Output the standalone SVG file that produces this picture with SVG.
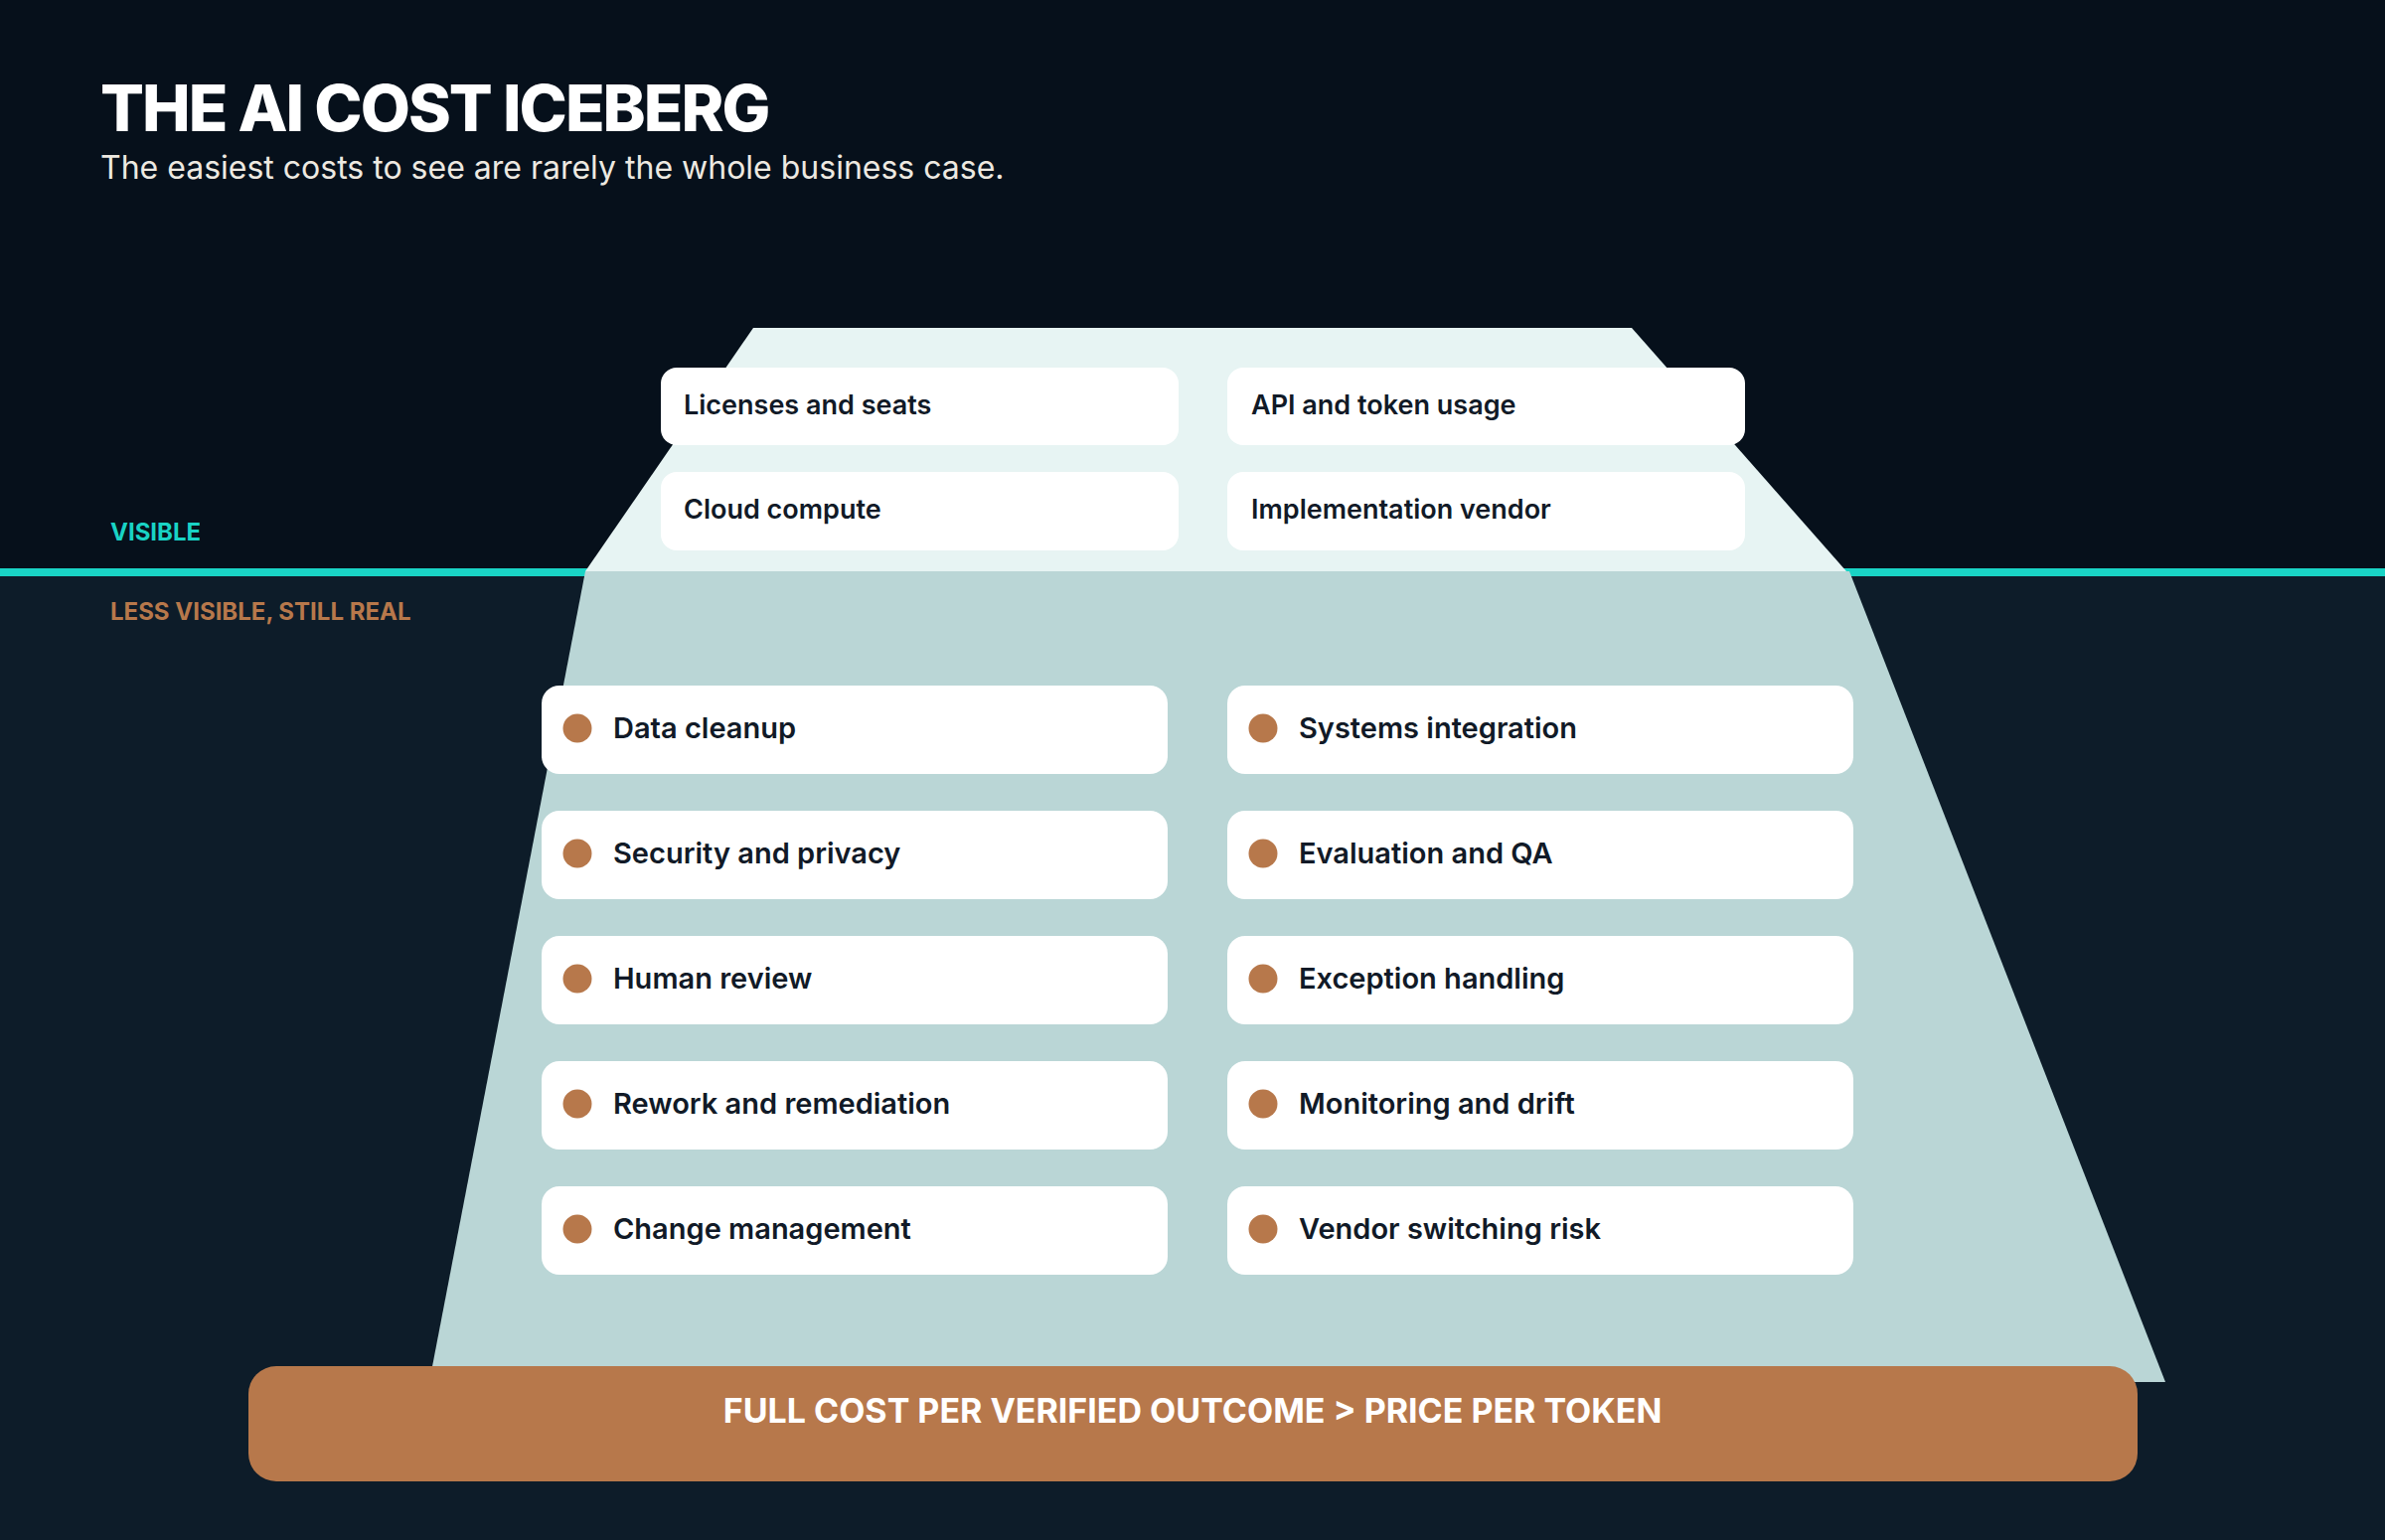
<svg xmlns="http://www.w3.org/2000/svg" width="2400" height="1550" viewBox="0 0 2400 1550">
  <style>
    .card { fill: #FFFFFF; }
    .lbl { font-family: Inter, "Noto Sans", "Liberation Sans", sans-serif; font-weight: 600; fill: #111A27; }
    .top { font-size: 27px; }
    .low { font-size: 29px; }
    .dot { fill: #B7784B; }
    .zone { font-family: Inter, "Noto Sans", "Liberation Sans", sans-serif; font-weight: 700; font-size: 24px; }
  </style>
  <rect x="0" y="0" width="2400" height="576" fill="#06101B"/>
  <rect x="0" y="576" width="2400" height="974" fill="#0D1C29"/>
  <rect x="0" y="572" width="2400" height="8" fill="#19D3C5"/>

  <g id="iceberg">
    <polygon points="758,330 1642,330 1858,575 589,575" fill="#E7F4F3"/>
    <polygon points="589,575 1861,575 2179,1391 432,1391" fill="#BAD6D6"/>
  </g>

  <g id="title">
    <text x="101" y="132" font-family="Inter, 'Liberation Sans', sans-serif" font-weight="800" font-size="65" letter-spacing="-2" fill="#FFFFFF">THE AI COST ICEBERG</text>
    <text x="101" y="180" font-family="Inter, 'Liberation Sans', sans-serif" font-weight="400" font-size="32" fill="#EDE9E1">The easiest costs to see are rarely the whole business case.</text>
  </g>

  <g id="zone-labels">
    <text class="zone" x="111" y="544" fill="#19D3C5">VISIBLE</text>
    <text class="zone" x="111" y="624" fill="#B7784B">LESS VISIBLE, STILL REAL</text>
  </g>

  <g id="visible-costs">
    <g id="licenses"><rect class="card" x="665" y="370" width="521" height="78" rx="16"/><text class="lbl top" x="688" y="417">Licenses and seats</text></g>
    <g id="api"><rect class="card" x="1235" y="370" width="521" height="78" rx="16"/><text class="lbl top" x="1259" y="417">API and token usage</text></g>
    <g id="cloud"><rect class="card" x="665" y="475" width="521" height="79" rx="16"/><text class="lbl top" x="688" y="522">Cloud compute</text></g>
    <g id="impl"><rect class="card" x="1235" y="475" width="521" height="79" rx="16"/><text class="lbl top" x="1259" y="522">Implementation vendor</text></g>
  </g>

  <g id="hidden-costs">
    <g id="data-cleanup"><rect class="card" x="545" y="690" width="630" height="89" rx="18"/><circle class="dot" cx="581" cy="733" r="14.5"/><text class="lbl low" x="617" y="743">Data cleanup</text></g>
    <g id="systems-integration"><rect class="card" x="1235" y="690" width="630" height="89" rx="18"/><circle class="dot" cx="1271" cy="733" r="14.5"/><text class="lbl low" x="1307" y="743">Systems integration</text></g>
    <g id="security"><rect class="card" x="545" y="816" width="630" height="89" rx="18"/><circle class="dot" cx="581" cy="859" r="14.5"/><text class="lbl low" x="617" y="869">Security and privacy</text></g>
    <g id="evaluation"><rect class="card" x="1235" y="816" width="630" height="89" rx="18"/><circle class="dot" cx="1271" cy="859" r="14.5"/><text class="lbl low" x="1307" y="869">Evaluation and QA</text></g>
    <g id="human-review"><rect class="card" x="545" y="942" width="630" height="89" rx="18"/><circle class="dot" cx="581" cy="985" r="14.5"/><text class="lbl low" x="617" y="995">Human review</text></g>
    <g id="exception"><rect class="card" x="1235" y="942" width="630" height="89" rx="18"/><circle class="dot" cx="1271" cy="985" r="14.5"/><text class="lbl low" x="1307" y="995">Exception handling</text></g>
    <g id="rework"><rect class="card" x="545" y="1068" width="630" height="89" rx="18"/><circle class="dot" cx="581" cy="1111" r="14.5"/><text class="lbl low" x="617" y="1121">Rework and remediation</text></g>
    <g id="monitoring"><rect class="card" x="1235" y="1068" width="630" height="89" rx="18"/><circle class="dot" cx="1271" cy="1111" r="14.5"/><text class="lbl low" x="1307" y="1121">Monitoring and drift</text></g>
    <g id="change-mgmt"><rect class="card" x="545" y="1194" width="630" height="89" rx="18"/><circle class="dot" cx="581" cy="1237" r="14.5"/><text class="lbl low" x="617" y="1247">Change management</text></g>
    <g id="vendor-switching"><rect class="card" x="1235" y="1194" width="630" height="89" rx="18"/><circle class="dot" cx="1271" cy="1237" r="14.5"/><text class="lbl low" x="1307" y="1247">Vendor switching risk</text></g>
  </g>

  <g id="outcome-bar">
    <rect x="250" y="1375" width="1901" height="116" rx="28" fill="#B7784B"/>
    <text x="1200" y="1432" text-anchor="middle" font-family="Inter, 'Liberation Sans', sans-serif" font-weight="700" font-size="34" fill="#FFFFFF">FULL COST PER VERIFIED OUTCOME &gt; PRICE PER TOKEN</text>
  </g>
  <g id="connectors"/>
</svg>
